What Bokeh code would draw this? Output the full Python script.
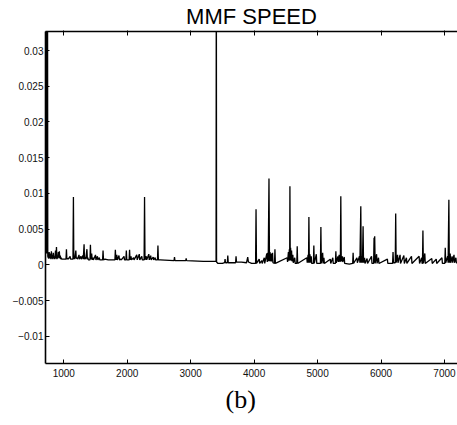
from bokeh.plotting import figure
from bokeh.models import Range1d, FixedTicker, LinearAxis, Title
from bokeh.embed import file_html
from bokeh.resources import INLINE

# ---- data (sample index ~ x, MMF speed value) ----
speed_x = [
    712, 716, 726, 730, 744, 748, 756,
    762, 770, 778, 790, 798, 805, 812, 820, 828, 835,
    842, 850, 858, 870, 877, 885, 892, 900, 907, 915,
    922, 930, 937, 945, 952, 960, 968, 1000,
    1035, 1042, 1049, 1060, 1070, 1100, 1107, 1145, 1152, 1158,
    1165, 1172, 1190, 1197, 1210, 1217, 1240, 1247, 1270, 1277,
    1300, 1307, 1320, 1327, 1340, 1347, 1365, 1372, 1380, 1387,
    1413, 1420, 1427, 1440, 1447, 1460, 1467,
    1500, 1507, 1530, 1537, 1560, 1567, 1612, 1619, 1626, 1650,
    1700, 1806, 1813, 1820, 1835, 1842, 1870, 1877, 1900, 1907,
    1950, 1957, 1979, 1986, 1993, 2030, 2037, 2044, 2060, 2067,
    2100, 2107,
    2150, 2157, 2190, 2197, 2230, 2237, 2266, 2273, 2280, 2300,
    2307, 2340, 2347, 2370, 2377, 2410, 2417, 2440, 2447, 2477,
    2484, 2491, 2520, 2738, 2745, 2752, 2922, 2929, 2936, 3200,
    3400, 3404, 3408,
    3430, 3500, 3535, 3542, 3549, 3578, 3585, 3592, 3708, 3715,
    3722, 3800, 3880, 3899, 3910, 3960, 4023, 4030, 4037, 4080,
    4087, 4120, 4127, 4160, 4167, 4200, 4207, 4215, 4222, 4234,
    4242, 4250, 4257, 4270, 4277, 4290, 4297, 4321, 4328, 4335,
    4520, 4527, 4540, 4547, 4555, 4560, 4564, 4569, 4575, 4582,
    4590, 4597, 4610, 4617, 4640, 4647, 4672, 4679, 4686, 4830,
    4837, 4850, 4857, 4863, 4870, 4880, 4887, 4900, 4907, 4934,
    4941, 4948, 4980, 4987, 5045, 5052, 5059, 5080, 5087, 5100,
    5107,
    5200, 5207, 5240, 5247, 5281, 5288, 5295, 5320, 5327, 5340,
    5347, 5359, 5366, 5373, 5390, 5397, 5420, 5427, 5500, 5553,
    5560, 5567, 5620, 5627, 5660, 5667, 5681, 5688, 5700, 5707,
    5717, 5724, 5740, 5747, 5780, 5787, 5850, 5857, 5883, 5890,
    5895, 5900, 5907, 5930, 5937, 5960, 5967,
    6100, 6107, 6182, 6189, 6196, 6224, 6231, 6238, 6260, 6267,
    6300, 6307, 6360, 6367, 6400, 6407, 6480, 6487, 6600, 6607,
    6640, 6647, 6653, 6660, 6667, 6690, 6697, 6800, 6807, 6870,
    6877, 6960, 6967, 7005, 7012, 7019, 7050, 7057, 7069, 7076,
    7090, 7097, 7120, 7127, 7150, 7157, 7180, 7187, 7210,
]
speed_y = [
    0.050, 0.0020, 0.050, 0.0016, 0.040, 0.0012, 0.0010,
    .0009, .0018, .0009, .0016, .0008, .0019, .0009, .0014, .0008, .0017,
    .0009, .0012, .0008, .0020, .0009, .0025, .0008, .0012, .0009, .0018,
    .0010, .0019, .0009, .0013, .0008, .0010, .0008, .0008,
    .0008, .0022, .0008, .0009, .0008, .0012, .0008, .0008, .0095, .0008,
    .0012, .0008, .0020, .0009, .0010, .0008, .0014, .0008, .0012, .0008,
    .0013, .0008, .0029, .0008, .0011, .0008, .0022, .0008, .0010, .0007,
    .0007, .0028, .0008, .0016, .0007, .0010, .0007,
    .0014, .0007, .0012, .0007, .0010, .0007, .0007, .0020, .0007, .0008,
    .0007, .0007, .0021, .0007, .0014, .0007, .0013, .0007, .0008, .0007,
    .0012, .0007, .0007, .0020, .0007, .0007, .0021, .0007, .0012, .0007,
    .0010, .0007,
    .0014, .0007, .0015, .0007, .0012, .0007, .0007, .0095, .0007, .0012,
    .0007, .0015, .0007, .0013, .0007, .0011, .0007, .0010, .0007, .0007,
    .0027, .0007, .0007, .0006, .0011, .0006, .0006, .0009, .0006, .0005,
    .0005, .050, .0004,
    .0002, .0002, .0003, .0008, .0003, .0003, .0013, .0003, .0003, .0012,
    .0004, .0004, .0003, .0011, .0004, .0002, .0002, .0078, .0002, .0008,
    .0002, .0006, .0002, .0010, .0002, .0016, .0004, .0017, .0005, .0121,
    .0005, .0018, .0005, .0016, .0005, .0017, .0003, .0002, .0022, .0002,
    .0010, .0004, .0018, .0006, .0022, .0006, .0110, .0006, .0024, .0006,
    .0020, .0005, .0014, .0003, .0010, .0002, .0002, .0026, .0002, .0010,
    .0003, .0014, .0003, .0067, .0003, .0015, .0003, .0012, .0002, .0002,
    .0027, .0002, .0015, .0002, .0002, .0053, .0002, .0017, .0002, .0010,
    .0002,
    .0008, .0002, .0010, .0002, .0002, .0019, .0003, .0012, .0004, .0014,
    .0005, .0005, .0096, .0005, .0012, .0004, .0011, .0002, .0001, .0002,
    .0017, .0002, .0010, .0003, .0012, .0003, .0082, .0003, .0012, .0003,
    .0054, .0003, .0010, .0002, .0009, .0002, .0012, .0002, .0002, .0038,
    .0003, .0040, .0002, .0015, .0002, .0010, .0002,
    .0008, .0002, .0002, .0018, .0003, .0003, .0072, .0003, .0014, .0003,
    .0014, .0002, .0013, .0002, .0010, .0002, .0012, .0002, .0012, .0002,
    .0010, .0002, .0002, .0048, .0002, .0016, .0002, .0009, .0002, .0008,
    .0002, .0010, .0002, .0002, .0024, .0003, .0012, .0003, .0091, .0003,
    .0016, .0003, .0012, .0003, .0014, .0003, .0010, .0003, .0003,
]
assert len(speed_x) == len(speed_y)

x_ticks = [1000, 2000, 3000, 4000, 5000, 6000, 7000]
y_ticks = [-0.01, -0.005, 0, 0.005, 0.01, 0.015, 0.02, 0.025, 0.03]
y_tick_labels = ["\u22120.01", "\u22120.005", "0", "0.005", "0.01",
                 "0.015", "0.02", "0.025", "0.03"]
title_text = "MMF SPEED"
caption_text = "(b)"

p = figure(width=457, height=425,
           x_range=Range1d(712, 7205), y_range=Range1d(-0.0138, 0.03266),
           output_backend="svg", toolbar_location=None,
           min_border_left=45, min_border_right=0,
           min_border_top=31, min_border_bottom=62,
           x_axis_type=None, y_axis_type=None)
p.outline_line_color = None
p.background_fill_color = "white"
p.border_fill_color = "white"
p.xgrid.visible = False
p.ygrid.visible = False

p.title.text = title_text
p.title.align = "center"
p.title.text_font = "Liberation Sans"
p.title.text_font_size = "22px"
p.title.text_font_style = "normal"
p.title.text_color = "black"
p.title.standoff = 3

tick_font = "Liberation Sans"

xax = LinearAxis(ticker=FixedTicker(ticks=x_ticks))
yax = LinearAxis(ticker=FixedTicker(ticks=y_ticks))
yax.major_label_overrides = {t: s for t, s in zip(y_ticks, y_tick_labels)}
for ax in (xax, yax):
    ax.axis_line_width = 1.6
    ax.axis_line_color = "black"
    ax.major_tick_in = 4
    ax.major_tick_out = 0
    ax.minor_tick_in = 0
    ax.minor_tick_out = 0
    ax.major_tick_line_color = "black"
    ax.major_label_text_font = tick_font
    ax.major_label_text_font_size = "10px"
    ax.major_label_text_color = "#111111"
xax.major_label_standoff = 5
yax.major_label_standoff = 2
p.add_layout(xax, "below")
p.add_layout(yax, "left")

top = LinearAxis(ticker=FixedTicker(ticks=x_ticks))
top.axis_line_width = 1.3
top.axis_line_color = "black"
top.major_tick_in = 4
top.major_tick_out = 1
top.major_tick_line_color = "black"
top.minor_tick_in = 0
top.minor_tick_out = 0
top.major_label_overrides = {t: "" for t in x_ticks}
top.major_label_standoff = 0
p.add_layout(top, "above")

caption = Title(text=caption_text, align="left", offset=180,
                text_font="Liberation Serif", text_font_size="26px",
                text_font_style="normal", text_color="black", standoff=7)
p.add_layout(caption, "below")

p.line(speed_x, speed_y, line_color="black", line_width=1.3)

open("out.html", "w").write(file_html(p, INLINE))
